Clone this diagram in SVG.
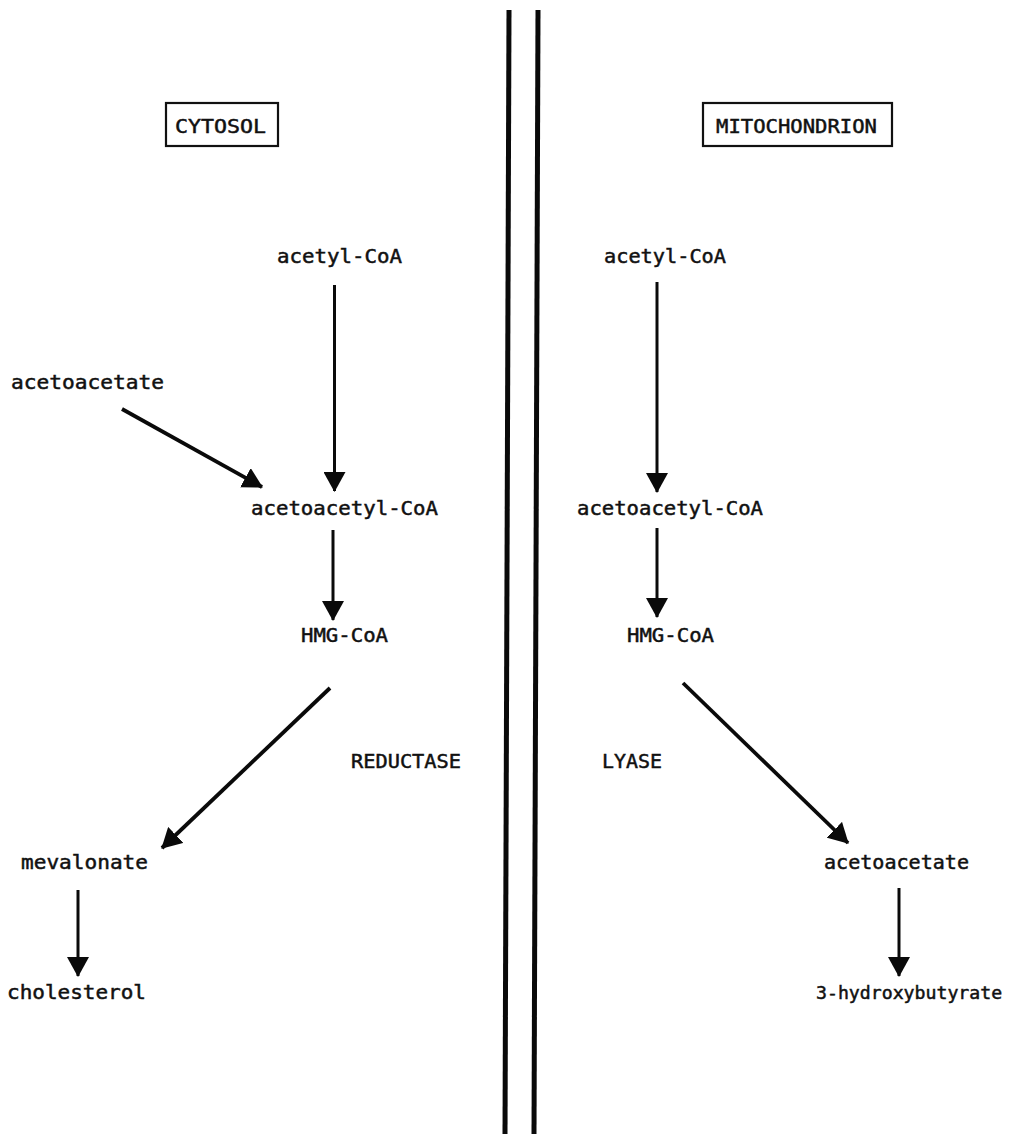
<svg xmlns="http://www.w3.org/2000/svg" width="1011" height="1134" viewBox="0 0 1011 1134">
  <defs>
    <style>
      .lbl { font-family: "DejaVu Sans Mono", "Liberation Mono", monospace; font-size: 20px; fill: #111; stroke: #111; stroke-width: 0.5; }
      .box { fill: none; stroke: #111; stroke-width: 2.2; }
      .wall { stroke: #0a0a0a; stroke-width: 5; fill: none; }
      .arr { stroke: #0a0a0a; stroke-width: 3; fill: none; marker-end: url(#head); }
      .arr.thick { stroke-width: 3.8; }
    </style>
    <marker id="head" viewBox="0 0 20 22" refX="19" refY="11" markerWidth="20" markerHeight="22" markerUnits="userSpaceOnUse" orient="auto">
      <path d="M0,0 L20,11 L0,22 z" fill="#0a0a0a"/>
    </marker>
  </defs>
  <rect width="1011" height="1134" fill="#ffffff"/>

  <!-- membrane: double wall between the two compartments -->
  <g id="membrane">
    <line class="wall" x1="509" y1="10" x2="505" y2="1134"/>
    <line class="wall" x1="538" y1="10" x2="534" y2="1134"/>
  </g>

  <!-- compartment headings -->
  <g id="cytosol">
    <rect class="box" x="166" y="103" width="112" height="43"/>
    <text class="lbl" x="175" y="133" textLength="91" lengthAdjust="spacingAndGlyphs">CYTOSOL</text>
  </g>
  <g id="mitochondrion">
    <rect class="box" x="703" y="103" width="189" height="43"/>
    <text class="lbl" x="716" y="133" textLength="161" lengthAdjust="spacingAndGlyphs">MITOCHONDRION</text>
  </g>

  <!-- cytosolic pathway -->
  <g id="c-acetylcoa"><text class="lbl" x="277" y="263" textLength="125" lengthAdjust="spacingAndGlyphs">acetyl-CoA</text></g>
  <g id="c-acetoacetate"><text class="lbl" x="11" y="389" textLength="153" lengthAdjust="spacingAndGlyphs">acetoacetate</text></g>
  <g id="c-acetoacetylcoa"><text class="lbl" x="251" y="515" textLength="187" lengthAdjust="spacingAndGlyphs">acetoacetyl-CoA</text></g>
  <g id="c-hmgcoa"><text class="lbl" x="301" y="642" textLength="87" lengthAdjust="spacingAndGlyphs">HMG-CoA</text></g>
  <g id="reductase"><text class="lbl" x="351" y="768" textLength="110" lengthAdjust="spacingAndGlyphs">REDUCTASE</text></g>
  <g id="c-mevalonate"><text class="lbl" x="21" y="869" textLength="127" lengthAdjust="spacingAndGlyphs">mevalonate</text></g>
  <g id="c-cholesterol"><text class="lbl" x="7" y="999" textLength="139" lengthAdjust="spacingAndGlyphs">cholesterol</text></g>

  <!-- mitochondrial pathway -->
  <g id="m-acetylcoa"><text class="lbl" x="604" y="263" textLength="122" lengthAdjust="spacingAndGlyphs">acetyl-CoA</text></g>
  <g id="m-acetoacetylcoa"><text class="lbl" x="577" y="515" textLength="186" lengthAdjust="spacingAndGlyphs">acetoacetyl-CoA</text></g>
  <g id="m-hmgcoa"><text class="lbl" x="627" y="642" textLength="87" lengthAdjust="spacingAndGlyphs">HMG-CoA</text></g>
  <g id="lyase"><text class="lbl" x="602" y="768" textLength="60" lengthAdjust="spacingAndGlyphs">LYASE</text></g>
  <g id="m-acetoacetate"><text class="lbl" x="824" y="869" textLength="145" lengthAdjust="spacingAndGlyphs">acetoacetate</text></g>
  <g id="m-hydroxybutyrate"><text class="lbl" x="816" y="999" style="font-size:18.2px">3-hydroxybutyrate</text></g>

  <!-- reaction arrows -->
  <g id="connectors">
    <line class="arr" x1="334.5" y1="285" x2="334.5" y2="491"/>
    <line class="arr thick" x1="122" y1="409" x2="262" y2="487"/>
    <line class="arr" x1="333" y1="530" x2="333" y2="620"/>
    <line class="arr thick" x1="330" y1="688" x2="162" y2="848"/>
    <line class="arr" x1="78" y1="890" x2="78" y2="976"/>
    <line class="arr" x1="657" y1="282" x2="657" y2="492"/>
    <line class="arr" x1="657" y1="528" x2="657" y2="617"/>
    <line class="arr thick" x1="683" y1="683" x2="848" y2="843"/>
    <line class="arr" x1="899" y1="888" x2="899" y2="976"/>
  </g>
</svg>
